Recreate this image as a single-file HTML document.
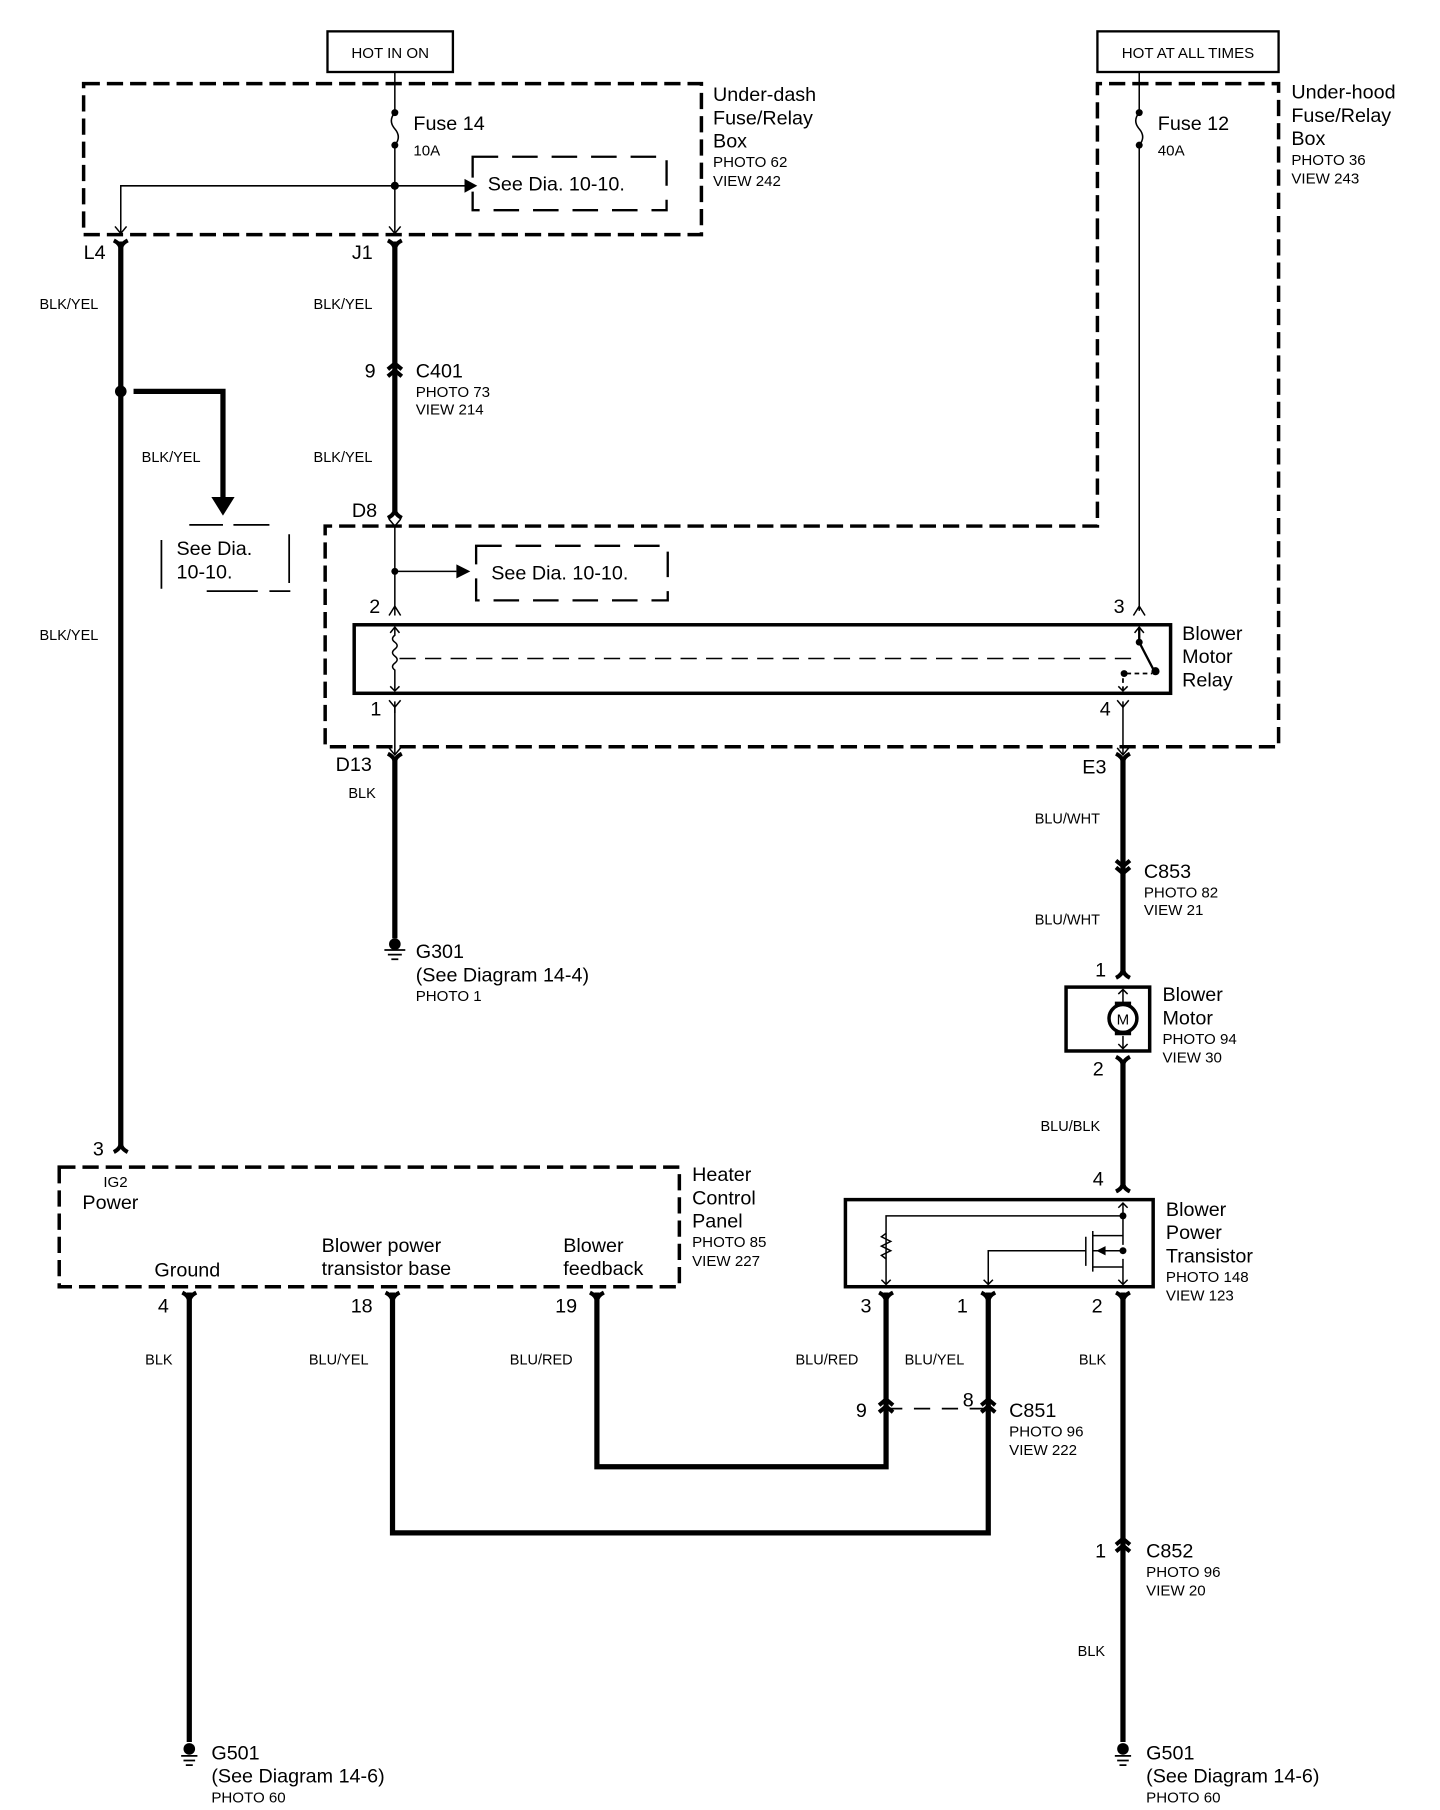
<!DOCTYPE html>
<html><head><meta charset="utf-8"><style>
html,body{margin:0;padding:0;background:#fff;}
svg{display:block;}
text{font-family:"Liberation Sans",sans-serif;fill:#000;}
.L{font-size:17px;}
.S{font-size:13px;}
.W{font-size:12.5px;}
</style></head><body>
<svg width="1440" height="1810" viewBox="0 0 1240 1558.6" preserveAspectRatio="none" xmlns="http://www.w3.org/2000/svg">
<g fill="none" stroke="#000">
<rect x="282" y="27" width="108" height="35" stroke-width="2"/>
<rect x="945" y="27" width="156" height="35" stroke-width="2"/>
<rect x="72" y="72" width="532" height="130" stroke-width="3" stroke-dasharray="14,6"/>
<path d="M945 202 V72 H1101 V643 H280 V453 H945 V202" stroke-width="3" stroke-dasharray="14,6"/>
<path d="M407 135 H574 V181 H407 Z" stroke-width="2" stroke-dasharray="22,12"/>
<path d="M410 470 H575 V517 H410 Z" stroke-width="2" stroke-dasharray="22,12"/>
<path d="M163 452 H192 M201 452 H232 M139 465 V507 M249 460 V502 M178 509 H222 M232 509 H250" stroke-width="1.5"/>
<path d="M340 62 V97 M340 97 q-6 7 0 14 q6 7 0 14 M340 125 V200" stroke-width="1.3"/>
<path d="M104 200 V160 H400" stroke-width="1.3"/>
<path d="M981 62 V97 M981 97 q-6 7 0 14 q6 7 0 14 M981 125 V526" stroke-width="1.3"/>
<path d="M99 195 L104 201 L109 195 M335 195 L340 201 L345 195" stroke-width="1.3"/>
<path d="M104 208 V988" stroke-width="4.5"/>
<path d="M115 337 H192 V428" stroke-width="4.5"/>
<path d="M340 208 V440" stroke-width="4.5"/>
<path d="M340 653 V808" stroke-width="4.5"/>
<path d="M967 653 V838 M967 913 V1023" stroke-width="4.5"/>
<path d="M163 1113 V1500" stroke-width="4.5"/>
<path d="M338 1113 V1320 H851 V1113" stroke-width="4.5"/>
<path d="M514 1113 V1263 H763 V1113" stroke-width="4.5"/>
<path d="M967 1113 V1500" stroke-width="4.5"/>
<path d="M763 1213 H851" stroke-width="1.5" stroke-dasharray="14,10"/>
<path d="M340 453 V530 M340 492 H393" stroke-width="1.3"/>
<path d="M340 604 V650 M967 604 V650" stroke-width="1.3"/>
<path d="M335 447 L340 453 L345 447 M335 644 L340 650 L345 644 M962 644 L967 650 L972 644" stroke-width="1.3"/>
<rect x="305" y="538" width="703" height="59" stroke-width="3"/>
<path d="M340 540 V547 q-4 3 0 6 q4 3 0 6 q-4 3 0 6 q4 3 0 6 q-4 3 0 6 V595" stroke-width="1.3"/>
<path d="M336 545 L340 540 L344 545 M336 591 L340 595 L344 591 M977 545 L981 540 L985 545 M963 591 L967 595 L971 591" stroke-width="1.3"/>
<path d="M344 567 H975" stroke-width="1.3" stroke-dasharray="14,8"/>
<path d="M981 540 V553 L994 578" stroke-width="2"/>
<path d="M967 595 V580 M970 580 H992" stroke-width="1.5" stroke-dasharray="4,3"/>
<path d="M335 530 L340 522 L345 530 M976 530 L981 522 L986 530 M335 603 L340 609 L345 603 M340 609 V614 M962 603 L967 609 L972 603" stroke-width="1.3"/>
<rect x="918" y="850" width="72" height="55" stroke-width="3"/>
<path d="M967 852 V864 M967 892 V903 M963 856 L967 852 L971 856 M963 899 L967 903 L971 899" stroke-width="1.3"/>
<circle cx="967" cy="877" r="12" stroke-width="3"/>
<path d="M960 864 H974 M960 890 H974" stroke-width="3"/>
<rect x="51" y="1005" width="534" height="103" stroke-width="3" stroke-dasharray="14,6"/>
<rect x="728" y="1033" width="265" height="75" stroke-width="3"/>
<path d="M967 1036 V1072 M763 1106 V1047 H967 M967 1084 V1106 M851 1106 V1077 H935 M935 1065 V1090 M941 1060 V1095 M941 1064 H967 M941 1077 H967 M941 1091 H967" stroke-width="1.3"/>
<path d="M763 1062 l-4 3 l8 4 l-8 4 l8 4 l-8 4 l4 3" stroke-width="1.3"/>
<path d="M963 1040 L967 1036 L971 1040 M759 1102 L763 1106 L767 1102 M847 1102 L851 1106 L855 1102 M963 1102 L967 1106 L971 1102" stroke-width="1.3"/>
<g stroke-width="3.5">
<path d="M98 207 Q104 210 104 215 Q104 210 110 207"/>
<path d="M334 207 Q340 210 340 215 Q340 210 346 207"/>
<path d="M334 649 Q340 652 340 657 Q340 652 346 649"/>
<path d="M961 649 Q967 652 967 657 Q967 652 973 649"/>
<path d="M961 910 Q967 913 967 918 Q967 913 973 910"/>
<path d="M157 1113 Q163 1116 163 1121 Q163 1116 169 1113"/>
<path d="M332 1113 Q338 1116 338 1121 Q338 1116 344 1113"/>
<path d="M508 1113 Q514 1116 514 1121 Q514 1116 520 1113"/>
<path d="M757 1113 Q763 1116 763 1121 Q763 1116 769 1113"/>
<path d="M845 1113 Q851 1116 851 1121 Q851 1116 857 1113"/>
<path d="M961 1113 Q967 1116 967 1121 Q967 1116 973 1113"/>
<path d="M334 446 Q340 443 340 438 Q340 443 346 446"/>
<path d="M98 992 Q104 989 104 984 Q104 989 110 992"/>
<path d="M961 842 Q967 839 967 834 Q967 839 973 842"/>
<path d="M961 1026 Q967 1023 967 1018 Q967 1023 973 1026"/>
<path d="M334 318 L340 313 L346 318 M334 324 L340 319 L346 324"/>
<path d="M757 1210 L763 1205 L769 1210 M757 1216 L763 1211 L769 1216"/>
<path d="M845 1210 L851 1205 L857 1210 M845 1216 L851 1211 L857 1216"/>
<path d="M961 1330 L967 1325 L973 1330 M961 1336 L967 1331 L973 1336"/>
<path d="M961 741 L967 746 L973 741 M961 747 L967 752 L973 747"/>
</g>
<path d="M331 818 H349 M334 822 H346 M337 826 H343" stroke-width="1.5"/>
<path d="M156 1512 H170 M158 1516 H168 M160 1520 H166" stroke-width="1.5"/>
<path d="M960 1512 H974 M962 1516 H972 M964 1520 H970" stroke-width="1.5"/>
</g>
<g fill="#000">
<circle cx="340" cy="97" r="3"/><circle cx="340" cy="125" r="3"/><circle cx="340" cy="160" r="3.5"/>
<circle cx="981" cy="97" r="3"/><circle cx="981" cy="125" r="3"/>
<circle cx="104" cy="337" r="5"/>
<circle cx="340" cy="492" r="3"/>
<path d="M393 486 L405 492 L393 498 Z M400 154 L411 160 L400 166 Z"/>
<path d="M182 428 H202 L192 444 Z"/>
<circle cx="981" cy="553" r="3"/><circle cx="995" cy="578" r="3.5"/><circle cx="968" cy="580" r="3"/>
<circle cx="967" cy="1047" r="3"/><circle cx="967" cy="1077" r="3"/>
<path d="M944 1077 L952 1073 L952 1081 Z"/>
<circle cx="340" cy="813" r="5"/>
<circle cx="163" cy="1506" r="5"/>
<circle cx="967" cy="1506" r="5"/>
</g>
<text x="336" y="50" class="S" text-anchor="middle">HOT IN ON</text>
<text x="1023" y="50" class="S" text-anchor="middle">HOT AT ALL TIMES</text>
<text x="356" y="112" class="L">Fuse 14</text><text x="356" y="134" class="S">10A</text>
<text x="420" y="164" class="L">See Dia. 10-10.</text>
<text x="614" y="87" class="L">Under-dash</text><text x="614" y="107" class="L">Fuse/Relay</text><text x="614" y="127" class="L">Box</text>
<text x="614" y="144" class="S">PHOTO 62</text><text x="614" y="160" class="S">VIEW 242</text>
<text x="997" y="112" class="L">Fuse 12</text><text x="997" y="134" class="S">40A</text>
<text x="1112" y="85" class="L">Under-hood</text><text x="1112" y="105" class="L">Fuse/Relay</text><text x="1112" y="125" class="L">Box</text>
<text x="1112" y="142" class="S">PHOTO 36</text><text x="1112" y="158" class="S">VIEW 243</text>
<text x="72" y="223" class="L">L4</text><text x="303" y="223" class="L">J1</text>
<text x="34" y="266" class="W">BLK/YEL</text><text x="270" y="266" class="W">BLK/YEL</text>
<text x="314" y="325" class="L">9</text><text x="358" y="325" class="L">C401</text>
<text x="358" y="342" class="S">PHOTO 73</text><text x="358" y="357" class="S">VIEW 214</text>
<text x="122" y="398" class="W">BLK/YEL</text><text x="270" y="398" class="W">BLK/YEL</text>
<text x="303" y="445" class="L">D8</text>
<text x="152" y="478" class="L">See Dia.</text><text x="152" y="498" class="L">10-10.</text>
<text x="423" y="499" class="L">See Dia. 10-10.</text>
<text x="34" y="551" class="W">BLK/YEL</text>
<text x="318" y="528" class="L">2</text><text x="959" y="528" class="L">3</text>
<text x="1018" y="551" class="L">Blower</text><text x="1018" y="571" class="L">Motor</text><text x="1018" y="591" class="L">Relay</text>
<text x="319" y="616" class="L">1</text><text x="947" y="616" class="L">4</text>
<text x="289" y="664" class="L">D13</text><text x="932" y="666" class="L">E3</text>
<text x="300" y="687" class="W">BLK</text>
<text x="891" y="709" class="W">BLU/WHT</text>
<text x="985" y="756" class="L">C853</text><text x="985" y="773" class="S">PHOTO 82</text><text x="985" y="788" class="S">VIEW 21</text>
<text x="891" y="796" class="W">BLU/WHT</text>
<text x="358" y="825" class="L">G301</text><text x="358" y="845" class="L">(See Diagram 14-4)</text><text x="358" y="862" class="S">PHOTO 1</text>
<text x="943" y="841" class="L">1</text>
<text x="967" y="882" font-size="13" text-anchor="middle">M</text>
<text x="1001" y="862" class="L">Blower</text><text x="1001" y="882" class="L">Motor</text>
<text x="1001" y="899" class="S">PHOTO 94</text><text x="1001" y="915" class="S">VIEW 30</text>
<text x="941" y="926" class="L">2</text>
<text x="896" y="974" class="W">BLU/BLK</text>
<text x="80" y="995" class="L">3</text>
<text x="941" y="1021" class="L">4</text>
<text x="596" y="1017" class="L">Heater</text><text x="596" y="1037" class="L">Control</text><text x="596" y="1057" class="L">Panel</text>
<text x="596" y="1074" class="S">PHOTO 85</text><text x="596" y="1090" class="S">VIEW 227</text>
<text x="1004" y="1047" class="L">Blower</text><text x="1004" y="1067" class="L">Power</text><text x="1004" y="1087" class="L">Transistor</text>
<text x="1004" y="1104" class="S">PHOTO 148</text><text x="1004" y="1120" class="S">VIEW 123</text>
<text x="89" y="1022" class="S">IG2</text><text x="71" y="1041" class="L">Power</text>
<text x="133" y="1099" class="L">Ground</text>
<text x="277" y="1078" class="L">Blower power</text><text x="277" y="1098" class="L">transistor base</text>
<text x="485" y="1078" class="L">Blower</text><text x="485" y="1098" class="L">feedback</text>
<text x="136" y="1130" class="L">4</text><text x="302" y="1130" class="L">18</text><text x="478" y="1130" class="L">19</text>
<text x="741" y="1130" class="L">3</text><text x="824" y="1130" class="L">1</text><text x="940" y="1130" class="L">2</text>
<text x="125" y="1175" class="W">BLK</text><text x="266" y="1175" class="W">BLU/YEL</text><text x="439" y="1175" class="W">BLU/RED</text>
<text x="685" y="1175" class="W">BLU/RED</text><text x="779" y="1175" class="W">BLU/YEL</text><text x="929" y="1175" class="W">BLK</text>
<text x="737" y="1220" class="L">9</text><text x="829" y="1211" class="L">8</text>
<text x="869" y="1220" class="L">C851</text><text x="869" y="1237" class="S">PHOTO 96</text><text x="869" y="1253" class="S">VIEW 222</text>
<text x="943" y="1341" class="L">1</text>
<text x="987" y="1341" class="L">C852</text><text x="987" y="1358" class="S">PHOTO 96</text><text x="987" y="1374" class="S">VIEW 20</text>
<text x="928" y="1426" class="W">BLK</text>
<text x="182" y="1515" class="L">G501</text><text x="182" y="1535" class="L">(See Diagram 14-6)</text><text x="182" y="1552" class="S">PHOTO 60</text>
<text x="987" y="1515" class="L">G501</text><text x="987" y="1535" class="L">(See Diagram 14-6)</text><text x="987" y="1552" class="S">PHOTO 60</text>
</svg>
</body></html>
